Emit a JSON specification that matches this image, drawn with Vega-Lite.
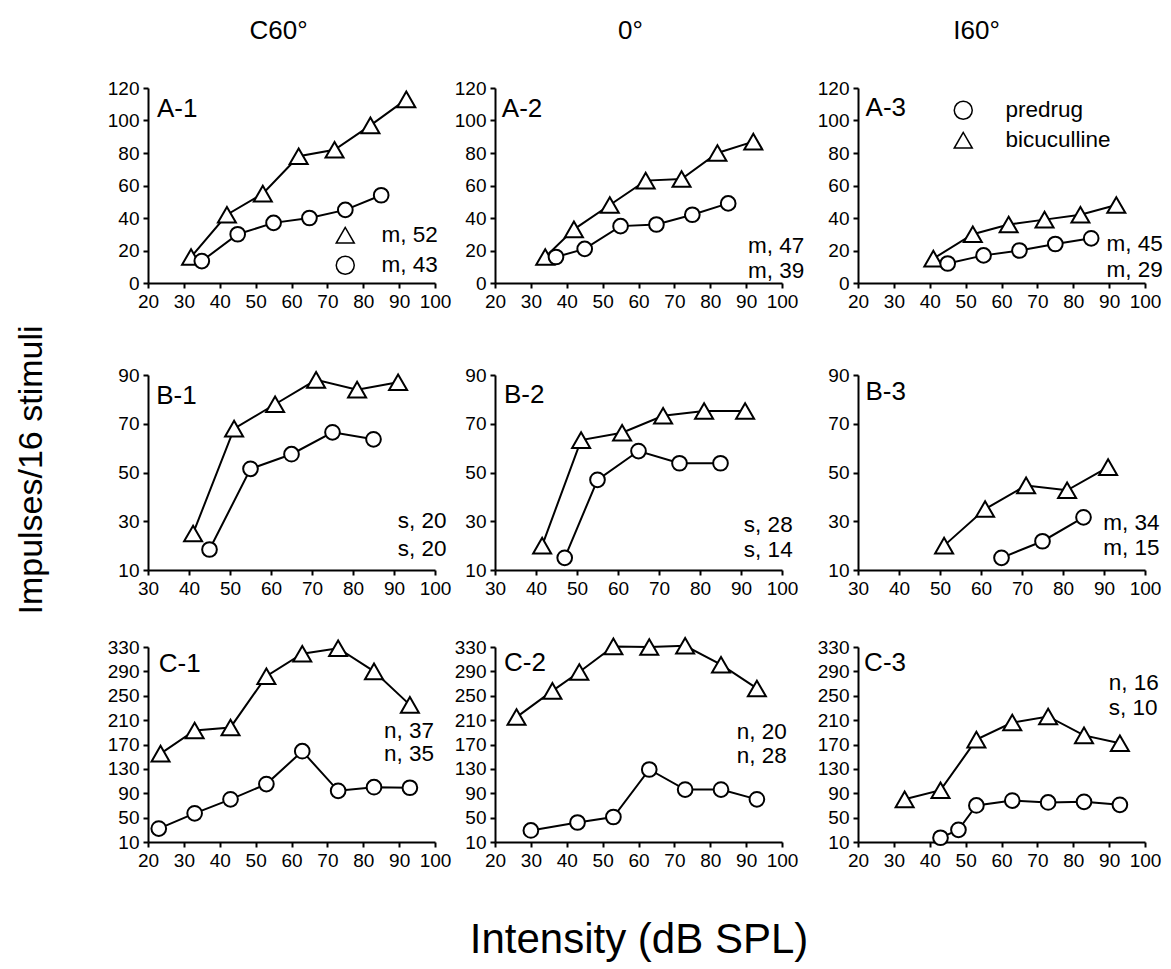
{
"$schema":"https://vega.github.io/schema/vega-lite/v6.json",
"background":"white",
"padding":{"left":15,"top":18,"right":5,"bottom":5},
"title":{"text":"Impulses/16 stimuli","orient":"left","anchor":"middle","frame":"bounds","fontSize":34,"offset":58,"dx":19},
"config":{
 "font":"Liberation Sans",
 "view":{"stroke":null},
 "axis":{"domainColor":"black","domainWidth":2,"tickColor":"black","tickWidth":2,"tickSize":5,"labelColor":"black","labelFontSize":19,"labelPadding":4,"labelOverlap":false,"labelFlush":false,"grid":false,"titleColor":"black","titleFontWeight":"normal"},
 "title":{"color":"black","fontWeight":"normal","fontSize":26,"frame":"group","anchor":"middle","offset":35},
 "text":{"color":"black"}
},
"datasets":{"d":[
{"p":"A-1","c":"bicuculline","x":32,"y":16},{"p":"A-1","c":"bicuculline","x":42,"y":42},{"p":"A-1","c":"bicuculline","x":52,"y":55},{"p":"A-1","c":"bicuculline","x":62,"y":78},{"p":"A-1","c":"bicuculline","x":72,"y":82},{"p":"A-1","c":"bicuculline","x":82,"y":97},{"p":"A-1","c":"bicuculline","x":92,"y":113},
{"p":"A-1","c":"predrug","x":35,"y":13.5},{"p":"A-1","c":"predrug","x":45,"y":30},{"p":"A-1","c":"predrug","x":55,"y":37},{"p":"A-1","c":"predrug","x":65,"y":40},{"p":"A-1","c":"predrug","x":75,"y":45},{"p":"A-1","c":"predrug","x":85,"y":54},
{"p":"A-2","c":"bicuculline","x":34,"y":16},{"p":"A-2","c":"bicuculline","x":42,"y":33},{"p":"A-2","c":"bicuculline","x":52,"y":48},{"p":"A-2","c":"bicuculline","x":62,"y":63},{"p":"A-2","c":"bicuculline","x":72,"y":64},{"p":"A-2","c":"bicuculline","x":82,"y":80},{"p":"A-2","c":"bicuculline","x":92,"y":87},
{"p":"A-2","c":"predrug","x":37,"y":16},{"p":"A-2","c":"predrug","x":45,"y":21},{"p":"A-2","c":"predrug","x":55,"y":35},{"p":"A-2","c":"predrug","x":65,"y":36},{"p":"A-2","c":"predrug","x":75,"y":42},{"p":"A-2","c":"predrug","x":85,"y":49},
{"p":"A-3","c":"bicuculline","x":41,"y":15},{"p":"A-3","c":"bicuculline","x":52,"y":30},{"p":"A-3","c":"bicuculline","x":62,"y":36},{"p":"A-3","c":"bicuculline","x":72,"y":39},{"p":"A-3","c":"bicuculline","x":82,"y":42},{"p":"A-3","c":"bicuculline","x":92,"y":48},
{"p":"A-3","c":"predrug","x":45,"y":12},{"p":"A-3","c":"predrug","x":55,"y":17},{"p":"A-3","c":"predrug","x":65,"y":20},{"p":"A-3","c":"predrug","x":75,"y":24},{"p":"A-3","c":"predrug","x":85,"y":27.5},
{"p":"B-1","c":"bicuculline","x":41,"y":25},{"p":"B-1","c":"bicuculline","x":51,"y":68},{"p":"B-1","c":"bicuculline","x":61,"y":78},{"p":"B-1","c":"bicuculline","x":71,"y":88},{"p":"B-1","c":"bicuculline","x":81,"y":84},{"p":"B-1","c":"bicuculline","x":91,"y":87},
{"p":"B-1","c":"predrug","x":45,"y":18.4},{"p":"B-1","c":"predrug","x":55,"y":51.5},{"p":"B-1","c":"predrug","x":65,"y":57.5},{"p":"B-1","c":"predrug","x":75,"y":66.5},{"p":"B-1","c":"predrug","x":85,"y":63.6},
{"p":"B-2","c":"bicuculline","x":41.5,"y":20},{"p":"B-2","c":"bicuculline","x":51,"y":63.3},{"p":"B-2","c":"bicuculline","x":61,"y":66.3},{"p":"B-2","c":"bicuculline","x":71,"y":73.3},{"p":"B-2","c":"bicuculline","x":81,"y":75.2},{"p":"B-2","c":"bicuculline","x":91,"y":75.2},
{"p":"B-2","c":"predrug","x":47,"y":15},{"p":"B-2","c":"predrug","x":55,"y":47},{"p":"B-2","c":"predrug","x":65,"y":58.8},{"p":"B-2","c":"predrug","x":75,"y":53.8},{"p":"B-2","c":"predrug","x":85,"y":53.8},
{"p":"B-3","c":"bicuculline","x":51,"y":20},{"p":"B-3","c":"bicuculline","x":61,"y":35},{"p":"B-3","c":"bicuculline","x":71,"y":44.7},{"p":"B-3","c":"bicuculline","x":81,"y":42.7},{"p":"B-3","c":"bicuculline","x":91,"y":52.2},
{"p":"B-3","c":"predrug","x":65,"y":15},{"p":"B-3","c":"predrug","x":75,"y":21.8},{"p":"B-3","c":"predrug","x":85,"y":31.6},
{"p":"C-1","c":"bicuculline","x":23.5,"y":155},{"p":"C-1","c":"bicuculline","x":33,"y":193},{"p":"C-1","c":"bicuculline","x":43,"y":198},{"p":"C-1","c":"bicuculline","x":53,"y":282},{"p":"C-1","c":"bicuculline","x":63,"y":319},{"p":"C-1","c":"bicuculline","x":73,"y":328},{"p":"C-1","c":"bicuculline","x":83,"y":290},{"p":"C-1","c":"bicuculline","x":93,"y":235},
{"p":"C-1","c":"predrug","x":23,"y":32},{"p":"C-1","c":"predrug","x":33,"y":57},{"p":"C-1","c":"predrug","x":43,"y":80},{"p":"C-1","c":"predrug","x":53,"y":105},{"p":"C-1","c":"predrug","x":63,"y":159},{"p":"C-1","c":"predrug","x":73,"y":94},{"p":"C-1","c":"predrug","x":83,"y":100},{"p":"C-1","c":"predrug","x":93,"y":99},
{"p":"C-2","c":"bicuculline","x":26,"y":215},{"p":"C-2","c":"bicuculline","x":36,"y":258},{"p":"C-2","c":"bicuculline","x":43.5,"y":289},{"p":"C-2","c":"bicuculline","x":53,"y":331},{"p":"C-2","c":"bicuculline","x":63,"y":330},{"p":"C-2","c":"bicuculline","x":73,"y":332},{"p":"C-2","c":"bicuculline","x":83,"y":301},{"p":"C-2","c":"bicuculline","x":93,"y":262},
{"p":"C-2","c":"predrug","x":30,"y":29},{"p":"C-2","c":"predrug","x":43,"y":42},{"p":"C-2","c":"predrug","x":53,"y":51},{"p":"C-2","c":"predrug","x":63,"y":129},{"p":"C-2","c":"predrug","x":73,"y":96},{"p":"C-2","c":"predrug","x":83,"y":96},{"p":"C-2","c":"predrug","x":93,"y":80},
{"p":"C-3","c":"bicuculline","x":33,"y":80},{"p":"C-3","c":"bicuculline","x":43,"y":95},{"p":"C-3","c":"bicuculline","x":53,"y":178},{"p":"C-3","c":"bicuculline","x":63,"y":206},{"p":"C-3","c":"bicuculline","x":73,"y":216},{"p":"C-3","c":"bicuculline","x":83,"y":185},{"p":"C-3","c":"bicuculline","x":93,"y":172},
{"p":"C-3","c":"predrug","x":43,"y":17},{"p":"C-3","c":"predrug","x":48,"y":30},{"p":"C-3","c":"predrug","x":53,"y":70},{"p":"C-3","c":"predrug","x":63,"y":78},{"p":"C-3","c":"predrug","x":73,"y":75},{"p":"C-3","c":"predrug","x":83,"y":76},{"p":"C-3","c":"predrug","x":93,"y":71}
],
"notes":[
{"p":"A-1","k":0,"t":"A-1"},
{"p":"A-2","k":0,"t":"A-2"},{"p":"A-2","k":1,"t":"m, 47"},{"p":"A-2","k":2,"t":"m, 39"},
{"p":"A-3","k":0,"t":"A-3"},{"p":"A-3","k":1,"t":"m, 45"},{"p":"A-3","k":2,"t":"m, 29"},
{"p":"B-1","k":0,"t":"B-1"},{"p":"B-1","k":1,"t":"s, 20"},{"p":"B-1","k":2,"t":"s, 20"},
{"p":"B-2","k":0,"t":"B-2"},{"p":"B-2","k":1,"t":"s, 28"},{"p":"B-2","k":2,"t":"s, 14"},
{"p":"B-3","k":0,"t":"B-3"},{"p":"B-3","k":1,"t":"m, 34"},{"p":"B-3","k":2,"t":"m, 15"},
{"p":"C-1","k":0,"t":"C-1"},{"p":"C-1","k":1,"t":"n, 37"},{"p":"C-1","k":2,"t":"n, 35"},
{"p":"C-2","k":0,"t":"C-2"},{"p":"C-2","k":1,"t":"n, 20"},{"p":"C-2","k":2,"t":"n, 28"},
{"p":"C-3","k":0,"t":"C-3"},{"p":"C-3","k":1,"t":"n, 16"},{"p":"C-3","k":2,"t":"s, 10"}
]},
"data":{"name":"d"},
"spacing":55,
"resolve":{"scale":{"shape":"independent"},"legend":{"shape":"independent"}},
"vconcat":[
{"hconcat":[
 {"width":287,"height":195,
  "title":{"text":"C60°","dx":-13},
  "layer":[
   {"transform":[{"filter":"datum.p==='A-1'"}],"mark":{"type":"line","color":"black","strokeWidth":2},
    "encoding":{"x":{"field":"x","type":"quantitative","scale":{"domain":[20,100],"nice":false,"zero":false},"axis":{"values":[20,30,40,50,60,70,80,90,100],"title":null}},
     "y":{"field":"y","type":"quantitative","scale":{"domain":[0,120],"nice":false,"zero":false},"axis":{"values":[0,20,40,60,80,100,120],"title":null}},
     "detail":{"field":"c","type":"nominal"},"order":{"field":"x","type":"quantitative"}}},
   {"transform":[{"filter":"datum.p==='A-1'"}],"mark":{"type":"point","filled":true,"fill":"white","stroke":"black","strokeWidth":2,"opacity":1},
    "encoding":{"x":{"field":"x","type":"quantitative","scale":{"domain":[20,100],"nice":false,"zero":false},"axis":{"values":[20,30,40,50,60,70,80,90,100],"title":null}},
     "y":{"field":"y","type":"quantitative","scale":{"domain":[0,120],"nice":false,"zero":false},"axis":{"values":[0,20,40,60,80,100,120],"title":null}},
     "shape":{"field":"c","type":"nominal","scale":{"domain":["predrug","bicuculline"],"range":["circle","triangle-up"]},
      "legend":{"orient":"none","legendX":186,"legendY":136,"title":null,"values":["bicuculline","predrug"],"labelExpr":"datum.label === 'predrug' ? 'm, 43' : 'm, 52'","labelFontSize":22.5,"labelColor":"black","labelOffset":25,"rowPadding":6,"symbolSize":324,"padding":0,
        "encode":{"symbols":{"update":{"size":{"signal":"datum.value === 'bicuculline' ? 324 : 216"},"fill":{"value":"white"},"stroke":{"value":"black"},"strokeWidth":{"value":2},"opacity":{"value":1}}}}}},
     "size":{"condition":{"test":"datum.c==='bicuculline'","value":324},"value":216}}},
   {"data":{"name":"notes"},"transform":[{"filter":"datum.p==='A-1' && datum.k===0"}],"mark":{"type":"text","fontSize":26,"align":"left","baseline":"middle"},
    "encoding":{"text":{"field":"t","type":"nominal"},
     "x":{"datum":22.5,"type":"quantitative","scale":{"domain":[20,100],"nice":false,"zero":false},"axis":{"values":[20,30,40,50,60,70,80,90,100],"title":null}},
     "y":{"datum":107,"type":"quantitative","scale":{"domain":[0,120],"nice":false,"zero":false},"axis":{"values":[0,20,40,60,80,100,120],"title":null}}}}
  ]},
 {"hconcat":[
  {"width":287,"height":195,
   "title":{"text":"0°","dx":-8},
   "layer":[
    {"transform":[{"filter":"datum.p==='A-2'"}],"mark":{"type":"line","color":"black","strokeWidth":2},
     "encoding":{"x":{"field":"x","type":"quantitative","scale":{"domain":[20,100],"nice":false,"zero":false},"axis":{"values":[20,30,40,50,60,70,80,90,100],"title":null}},
      "y":{"field":"y","type":"quantitative","scale":{"domain":[0,120],"nice":false,"zero":false},"axis":{"values":[0,20,40,60,80,100,120],"title":null}},
      "detail":{"field":"c","type":"nominal"},"order":{"field":"x","type":"quantitative"}}},
    {"transform":[{"filter":"datum.p==='A-2'"}],"mark":{"type":"point","filled":true,"fill":"white","stroke":"black","strokeWidth":2,"opacity":1},
     "encoding":{"x":{"field":"x","type":"quantitative","scale":{"domain":[20,100],"nice":false,"zero":false},"axis":{"values":[20,30,40,50,60,70,80,90,100],"title":null}},
      "y":{"field":"y","type":"quantitative","scale":{"domain":[0,120],"nice":false,"zero":false},"axis":{"values":[0,20,40,60,80,100,120],"title":null}},
      "shape":{"field":"c","type":"nominal","scale":{"domain":["predrug","bicuculline"],"range":["circle","triangle-up"]},"legend":null},
      "size":{"condition":{"test":"datum.c==='bicuculline'","value":324},"value":216}}},
    {"data":{"name":"notes"},"transform":[{"filter":"datum.p==='A-2' && datum.k===0"}],"mark":{"type":"text","fontSize":26,"align":"left","baseline":"middle"},
     "encoding":{"text":{"field":"t","type":"nominal"},
      "x":{"datum":21.9,"type":"quantitative","scale":{"domain":[20,100],"nice":false,"zero":false},"axis":{"values":[20,30,40,50,60,70,80,90,100],"title":null}},
      "y":{"datum":107,"type":"quantitative","scale":{"domain":[0,120],"nice":false,"zero":false},"axis":{"values":[0,20,40,60,80,100,120],"title":null}}}},
    {"data":{"name":"notes"},"transform":[{"filter":"datum.p==='A-2' && datum.k===1"}],"mark":{"type":"text","fontSize":22.5,"align":"left","baseline":"middle"},
     "encoding":{"text":{"field":"t","type":"nominal"},
      "x":{"datum":90.5,"type":"quantitative","scale":{"domain":[20,100],"nice":false,"zero":false},"axis":{"values":[20,30,40,50,60,70,80,90,100],"title":null}},
      "y":{"datum":22.7,"type":"quantitative","scale":{"domain":[0,120],"nice":false,"zero":false},"axis":{"values":[0,20,40,60,80,100,120],"title":null}}}},
    {"data":{"name":"notes"},"transform":[{"filter":"datum.p==='A-2' && datum.k===2"}],"mark":{"type":"text","fontSize":22.5,"align":"left","baseline":"middle"},
     "encoding":{"text":{"field":"t","type":"nominal"},
      "x":{"datum":90.5,"type":"quantitative","scale":{"domain":[20,100],"nice":false,"zero":false},"axis":{"values":[20,30,40,50,60,70,80,90,100],"title":null}},
      "y":{"datum":7.4,"type":"quantitative","scale":{"domain":[0,120],"nice":false,"zero":false},"axis":{"values":[0,20,40,60,80,100,120],"title":null}}}}
   ]},
  {"width":287,"height":195,
   "title":{"text":"I60°","dx":-25},
   "layer":[
    {"transform":[{"filter":"datum.p==='A-3'"}],"mark":{"type":"line","color":"black","strokeWidth":2},
     "encoding":{"x":{"field":"x","type":"quantitative","scale":{"domain":[20,100],"nice":false,"zero":false},"axis":{"values":[20,30,40,50,60,70,80,90,100],"title":null}},
      "y":{"field":"y","type":"quantitative","scale":{"domain":[0,120],"nice":false,"zero":false},"axis":{"values":[0,20,40,60,80,100,120],"title":null}},
      "detail":{"field":"c","type":"nominal"},"order":{"field":"x","type":"quantitative"}}},
    {"transform":[{"filter":"datum.p==='A-3'"}],"mark":{"type":"point","filled":true,"fill":"white","stroke":"black","strokeWidth":2,"opacity":1},
     "encoding":{"x":{"field":"x","type":"quantitative","scale":{"domain":[20,100],"nice":false,"zero":false},"axis":{"values":[20,30,40,50,60,70,80,90,100],"title":null}},
      "y":{"field":"y","type":"quantitative","scale":{"domain":[0,120],"nice":false,"zero":false},"axis":{"values":[0,20,40,60,80,100,120],"title":null}},
      "shape":{"field":"c","type":"nominal","scale":{"domain":["predrug","bicuculline"],"range":["circle","triangle-up"]},
       "legend":{"orient":"none","legendX":94,"legendY":11,"title":null,"values":["predrug","bicuculline"],"labelFontSize":22.5,"labelColor":"black","labelOffset":31,"rowPadding":6,"symbolSize":324,"padding":0,
        "encode":{"symbols":{"update":{"size":{"signal":"datum.value === 'bicuculline' ? 324 : 216"},"fill":{"value":"white"},"stroke":{"value":"black"},"strokeWidth":{"value":2},"opacity":{"value":1}}}}}},
      "size":{"condition":{"test":"datum.c==='bicuculline'","value":324},"value":216}}},
    {"data":{"name":"notes"},"transform":[{"filter":"datum.p==='A-3' && datum.k===0"}],"mark":{"type":"text","fontSize":26,"align":"left","baseline":"middle"},
     "encoding":{"text":{"field":"t","type":"nominal"},
      "x":{"datum":22.1,"type":"quantitative","scale":{"domain":[20,100],"nice":false,"zero":false},"axis":{"values":[20,30,40,50,60,70,80,90,100],"title":null}},
      "y":{"datum":108,"type":"quantitative","scale":{"domain":[0,120],"nice":false,"zero":false},"axis":{"values":[0,20,40,60,80,100,120],"title":null}}}},
    {"data":{"name":"notes"},"transform":[{"filter":"datum.p==='A-3' && datum.k===1"}],"mark":{"type":"text","fontSize":22.5,"align":"left","baseline":"middle"},
     "encoding":{"text":{"field":"t","type":"nominal"},
      "x":{"datum":89.3,"type":"quantitative","scale":{"domain":[20,100],"nice":false,"zero":false},"axis":{"values":[20,30,40,50,60,70,80,90,100],"title":null}},
      "y":{"datum":23.8,"type":"quantitative","scale":{"domain":[0,120],"nice":false,"zero":false},"axis":{"values":[0,20,40,60,80,100,120],"title":null}}}},
    {"data":{"name":"notes"},"transform":[{"filter":"datum.p==='A-3' && datum.k===2"}],"mark":{"type":"text","fontSize":22.5,"align":"left","baseline":"middle"},
     "encoding":{"text":{"field":"t","type":"nominal"},
      "x":{"datum":89.3,"type":"quantitative","scale":{"domain":[20,100],"nice":false,"zero":false},"axis":{"values":[20,30,40,50,60,70,80,90,100],"title":null}},
      "y":{"datum":8,"type":"quantitative","scale":{"domain":[0,120],"nice":false,"zero":false},"axis":{"values":[0,20,40,60,80,100,120],"title":null}}}}
   ]}
 ],"spacing":76,"bounds":"flush","resolve":{"scale":{"shape":"independent"},"legend":{"shape":"independent"}}}
],"spacing":60,"bounds":"flush","resolve":{"scale":{"shape":"independent"},"legend":{"shape":"independent"}}},
{"vconcat":[
 {"hconcat":[
  {"width":287,"height":195,
   "layer":[
    {"transform":[{"filter":"datum.p==='B-1'"}],"mark":{"type":"line","color":"black","strokeWidth":2},
     "encoding":{"x":{"field":"x","type":"quantitative","scale":{"domain":[30,100],"nice":false,"zero":false},"axis":{"values":[30,40,50,60,70,80,90,100],"title":null}},
      "y":{"field":"y","type":"quantitative","scale":{"domain":[10,90],"nice":false,"zero":false},"axis":{"values":[10,30,50,70,90],"title":null}},
      "detail":{"field":"c","type":"nominal"},"order":{"field":"x","type":"quantitative"}}},
    {"transform":[{"filter":"datum.p==='B-1'"}],"mark":{"type":"point","filled":true,"fill":"white","stroke":"black","strokeWidth":2,"opacity":1},
     "encoding":{"x":{"field":"x","type":"quantitative","scale":{"domain":[30,100],"nice":false,"zero":false},"axis":{"values":[30,40,50,60,70,80,90,100],"title":null}},
      "y":{"field":"y","type":"quantitative","scale":{"domain":[10,90],"nice":false,"zero":false},"axis":{"values":[10,30,50,70,90],"title":null}},
      "shape":{"field":"c","type":"nominal","scale":{"domain":["predrug","bicuculline"],"range":["circle","triangle-up"]},"legend":null},
      "size":{"condition":{"test":"datum.c==='bicuculline'","value":324},"value":216}}},
    {"data":{"name":"notes"},"transform":[{"filter":"datum.p==='B-1' && datum.k===0"}],"mark":{"type":"text","fontSize":26,"align":"left","baseline":"middle"},
     "encoding":{"text":{"field":"t","type":"nominal"},
      "x":{"datum":32,"type":"quantitative","scale":{"domain":[30,100],"nice":false,"zero":false},"axis":{"values":[30,40,50,60,70,80,90,100],"title":null}},
      "y":{"datum":81.4,"type":"quantitative","scale":{"domain":[10,90],"nice":false,"zero":false},"axis":{"values":[10,30,50,70,90],"title":null}}}},
    {"data":{"name":"notes"},"transform":[{"filter":"datum.p==='B-1' && datum.k===1"}],"mark":{"type":"text","fontSize":22.5,"align":"left","baseline":"middle"},
     "encoding":{"text":{"field":"t","type":"nominal"},
      "x":{"datum":90.9,"type":"quantitative","scale":{"domain":[30,100],"nice":false,"zero":false},"axis":{"values":[30,40,50,60,70,80,90,100],"title":null}},
      "y":{"datum":30,"type":"quantitative","scale":{"domain":[10,90],"nice":false,"zero":false},"axis":{"values":[10,30,50,70,90],"title":null}}}},
    {"data":{"name":"notes"},"transform":[{"filter":"datum.p==='B-1' && datum.k===2"}],"mark":{"type":"text","fontSize":22.5,"align":"left","baseline":"middle"},
     "encoding":{"text":{"field":"t","type":"nominal"},
      "x":{"datum":90.9,"type":"quantitative","scale":{"domain":[30,100],"nice":false,"zero":false},"axis":{"values":[30,40,50,60,70,80,90,100],"title":null}},
      "y":{"datum":18.6,"type":"quantitative","scale":{"domain":[10,90],"nice":false,"zero":false},"axis":{"values":[10,30,50,70,90],"title":null}}}}
   ]},
  {"hconcat":[
   {"width":287,"height":195,
    "layer":[
     {"transform":[{"filter":"datum.p==='B-2'"}],"mark":{"type":"line","color":"black","strokeWidth":2},
      "encoding":{"x":{"field":"x","type":"quantitative","scale":{"domain":[30,100],"nice":false,"zero":false},"axis":{"values":[30,40,50,60,70,80,90,100],"title":null}},
       "y":{"field":"y","type":"quantitative","scale":{"domain":[10,90],"nice":false,"zero":false},"axis":{"values":[10,30,50,70,90],"title":null}},
       "detail":{"field":"c","type":"nominal"},"order":{"field":"x","type":"quantitative"}}},
     {"transform":[{"filter":"datum.p==='B-2'"}],"mark":{"type":"point","filled":true,"fill":"white","stroke":"black","strokeWidth":2,"opacity":1},
      "encoding":{"x":{"field":"x","type":"quantitative","scale":{"domain":[30,100],"nice":false,"zero":false},"axis":{"values":[30,40,50,60,70,80,90,100],"title":null}},
       "y":{"field":"y","type":"quantitative","scale":{"domain":[10,90],"nice":false,"zero":false},"axis":{"values":[10,30,50,70,90],"title":null}},
       "shape":{"field":"c","type":"nominal","scale":{"domain":["predrug","bicuculline"],"range":["circle","triangle-up"]},"legend":null},
       "size":{"condition":{"test":"datum.c==='bicuculline'","value":324},"value":216}}},
     {"data":{"name":"notes"},"transform":[{"filter":"datum.p==='B-2' && datum.k===0"}],"mark":{"type":"text","fontSize":26,"align":"left","baseline":"middle"},
      "encoding":{"text":{"field":"t","type":"nominal"},
       "x":{"datum":32.2,"type":"quantitative","scale":{"domain":[30,100],"nice":false,"zero":false},"axis":{"values":[30,40,50,60,70,80,90,100],"title":null}},
       "y":{"datum":81.8,"type":"quantitative","scale":{"domain":[10,90],"nice":false,"zero":false},"axis":{"values":[10,30,50,70,90],"title":null}}}},
     {"data":{"name":"notes"},"transform":[{"filter":"datum.p==='B-2' && datum.k===1"}],"mark":{"type":"text","fontSize":22.5,"align":"left","baseline":"middle"},
      "encoding":{"text":{"field":"t","type":"nominal"},
       "x":{"datum":90.7,"type":"quantitative","scale":{"domain":[30,100],"nice":false,"zero":false},"axis":{"values":[30,40,50,60,70,80,90,100],"title":null}},
       "y":{"datum":28.6,"type":"quantitative","scale":{"domain":[10,90],"nice":false,"zero":false},"axis":{"values":[10,30,50,70,90],"title":null}}}},
     {"data":{"name":"notes"},"transform":[{"filter":"datum.p==='B-2' && datum.k===2"}],"mark":{"type":"text","fontSize":22.5,"align":"left","baseline":"middle"},
      "encoding":{"text":{"field":"t","type":"nominal"},
       "x":{"datum":90.7,"type":"quantitative","scale":{"domain":[30,100],"nice":false,"zero":false},"axis":{"values":[30,40,50,60,70,80,90,100],"title":null}},
       "y":{"datum":18.4,"type":"quantitative","scale":{"domain":[10,90],"nice":false,"zero":false},"axis":{"values":[10,30,50,70,90],"title":null}}}}
    ]},
   {"width":287,"height":195,
    "layer":[
     {"transform":[{"filter":"datum.p==='B-3'"}],"mark":{"type":"line","color":"black","strokeWidth":2},
      "encoding":{"x":{"field":"x","type":"quantitative","scale":{"domain":[30,100],"nice":false,"zero":false},"axis":{"values":[30,40,50,60,70,80,90,100],"title":null}},
       "y":{"field":"y","type":"quantitative","scale":{"domain":[10,90],"nice":false,"zero":false},"axis":{"values":[10,30,50,70,90],"title":null}},
       "detail":{"field":"c","type":"nominal"},"order":{"field":"x","type":"quantitative"}}},
     {"transform":[{"filter":"datum.p==='B-3'"}],"mark":{"type":"point","filled":true,"fill":"white","stroke":"black","strokeWidth":2,"opacity":1},
      "encoding":{"x":{"field":"x","type":"quantitative","scale":{"domain":[30,100],"nice":false,"zero":false},"axis":{"values":[30,40,50,60,70,80,90,100],"title":null}},
       "y":{"field":"y","type":"quantitative","scale":{"domain":[10,90],"nice":false,"zero":false},"axis":{"values":[10,30,50,70,90],"title":null}},
       "shape":{"field":"c","type":"nominal","scale":{"domain":["predrug","bicuculline"],"range":["circle","triangle-up"]},"legend":null},
       "size":{"condition":{"test":"datum.c==='bicuculline'","value":324},"value":216}}},
     {"data":{"name":"notes"},"transform":[{"filter":"datum.p==='B-3' && datum.k===0"}],"mark":{"type":"text","fontSize":26,"align":"left","baseline":"middle"},
      "encoding":{"text":{"field":"t","type":"nominal"},
       "x":{"datum":31.8,"type":"quantitative","scale":{"domain":[30,100],"nice":false,"zero":false},"axis":{"values":[30,40,50,60,70,80,90,100],"title":null}},
       "y":{"datum":83,"type":"quantitative","scale":{"domain":[10,90],"nice":false,"zero":false},"axis":{"values":[10,30,50,70,90],"title":null}}}},
     {"data":{"name":"notes"},"transform":[{"filter":"datum.p==='B-3' && datum.k===1"}],"mark":{"type":"text","fontSize":22.5,"align":"left","baseline":"middle"},
      "encoding":{"text":{"field":"t","type":"nominal"},
       "x":{"datum":89.8,"type":"quantitative","scale":{"domain":[30,100],"nice":false,"zero":false},"axis":{"values":[30,40,50,60,70,80,90,100],"title":null}},
       "y":{"datum":29.3,"type":"quantitative","scale":{"domain":[10,90],"nice":false,"zero":false},"axis":{"values":[10,30,50,70,90],"title":null}}}},
     {"data":{"name":"notes"},"transform":[{"filter":"datum.p==='B-3' && datum.k===2"}],"mark":{"type":"text","fontSize":22.5,"align":"left","baseline":"middle"},
      "encoding":{"text":{"field":"t","type":"nominal"},
       "x":{"datum":89.8,"type":"quantitative","scale":{"domain":[30,100],"nice":false,"zero":false},"axis":{"values":[30,40,50,60,70,80,90,100],"title":null}},
       "y":{"datum":19.1,"type":"quantitative","scale":{"domain":[10,90],"nice":false,"zero":false},"axis":{"values":[10,30,50,70,90],"title":null}}}}
    ]}
  ],"spacing":76,"bounds":"flush","resolve":{"scale":{"shape":"independent"},"legend":{"shape":"independent"}}}
 ],"spacing":60,"bounds":"flush","resolve":{"scale":{"shape":"independent"},"legend":{"shape":"independent"}}},
 {"hconcat":[
  {"width":287,"height":195,
   "layer":[
    {"transform":[{"filter":"datum.p==='C-1'"}],"mark":{"type":"line","color":"black","strokeWidth":2},
     "encoding":{"x":{"field":"x","type":"quantitative","scale":{"domain":[20,100],"nice":false,"zero":false},"axis":{"values":[20,30,40,50,60,70,80,90,100],"title":null}},
      "y":{"field":"y","type":"quantitative","scale":{"domain":[10,330],"nice":false,"zero":false},"axis":{"values":[10,50,90,130,170,210,250,290,330],"title":null}},
      "detail":{"field":"c","type":"nominal"},"order":{"field":"x","type":"quantitative"}}},
    {"transform":[{"filter":"datum.p==='C-1'"}],"mark":{"type":"point","filled":true,"fill":"white","stroke":"black","strokeWidth":2,"opacity":1},
     "encoding":{"x":{"field":"x","type":"quantitative","scale":{"domain":[20,100],"nice":false,"zero":false},"axis":{"values":[20,30,40,50,60,70,80,90,100],"title":null}},
      "y":{"field":"y","type":"quantitative","scale":{"domain":[10,330],"nice":false,"zero":false},"axis":{"values":[10,50,90,130,170,210,250,290,330],"title":null}},
      "shape":{"field":"c","type":"nominal","scale":{"domain":["predrug","bicuculline"],"range":["circle","triangle-up"]},"legend":null},
      "size":{"condition":{"test":"datum.c==='bicuculline'","value":324},"value":216}}},
    {"data":{"name":"notes"},"transform":[{"filter":"datum.p==='C-1' && datum.k===0"}],"mark":{"type":"text","fontSize":26,"align":"left","baseline":"middle"},
     "encoding":{"text":{"field":"t","type":"nominal"},
      "x":{"datum":23,"type":"quantitative","scale":{"domain":[20,100],"nice":false,"zero":false},"axis":{"values":[20,30,40,50,60,70,80,90,100],"title":null}},
      "y":{"datum":301.6,"type":"quantitative","scale":{"domain":[10,330],"nice":false,"zero":false},"axis":{"values":[10,50,90,130,170,210,250,290,330],"title":null}}}},
    {"data":{"name":"notes"},"transform":[{"filter":"datum.p==='C-1' && datum.k===1"}],"mark":{"type":"text","fontSize":22.5,"align":"left","baseline":"middle"},
     "encoding":{"text":{"field":"t","type":"nominal"},
      "x":{"datum":85.8,"type":"quantitative","scale":{"domain":[20,100],"nice":false,"zero":false},"axis":{"values":[20,30,40,50,60,70,80,90,100],"title":null}},
      "y":{"datum":192,"type":"quantitative","scale":{"domain":[10,330],"nice":false,"zero":false},"axis":{"values":[10,50,90,130,170,210,250,290,330],"title":null}}}},
    {"data":{"name":"notes"},"transform":[{"filter":"datum.p==='C-1' && datum.k===2"}],"mark":{"type":"text","fontSize":22.5,"align":"left","baseline":"middle"},
     "encoding":{"text":{"field":"t","type":"nominal"},
      "x":{"datum":85.8,"type":"quantitative","scale":{"domain":[20,100],"nice":false,"zero":false},"axis":{"values":[20,30,40,50,60,70,80,90,100],"title":null}},
      "y":{"datum":153.6,"type":"quantitative","scale":{"domain":[10,330],"nice":false,"zero":false},"axis":{"values":[10,50,90,130,170,210,250,290,330],"title":null}}}}
   ]},
  {"hconcat":[
   {"width":287,"height":195,
    "layer":[
     {"transform":[{"filter":"datum.p==='C-2'"}],"mark":{"type":"line","color":"black","strokeWidth":2},
      "encoding":{"x":{"field":"x","type":"quantitative","scale":{"domain":[20,100],"nice":false,"zero":false},"axis":{"values":[20,30,40,50,60,70,80,90,100],"title":"Intensity (dB SPL)","titleFontSize":42,"titlePadding":49}},
       "y":{"field":"y","type":"quantitative","scale":{"domain":[10,330],"nice":false,"zero":false},"axis":{"values":[10,50,90,130,170,210,250,290,330],"title":null}},
       "detail":{"field":"c","type":"nominal"},"order":{"field":"x","type":"quantitative"}}},
     {"transform":[{"filter":"datum.p==='C-2'"}],"mark":{"type":"point","filled":true,"fill":"white","stroke":"black","strokeWidth":2,"opacity":1},
      "encoding":{"x":{"field":"x","type":"quantitative","scale":{"domain":[20,100],"nice":false,"zero":false},"axis":{"values":[20,30,40,50,60,70,80,90,100],"title":"Intensity (dB SPL)","titleFontSize":42,"titlePadding":49}},
       "y":{"field":"y","type":"quantitative","scale":{"domain":[10,330],"nice":false,"zero":false},"axis":{"values":[10,50,90,130,170,210,250,290,330],"title":null}},
       "shape":{"field":"c","type":"nominal","scale":{"domain":["predrug","bicuculline"],"range":["circle","triangle-up"]},"legend":null},
       "size":{"condition":{"test":"datum.c==='bicuculline'","value":324},"value":216}}},
     {"data":{"name":"notes"},"transform":[{"filter":"datum.p==='C-2' && datum.k===0"}],"mark":{"type":"text","fontSize":26,"align":"left","baseline":"middle"},
      "encoding":{"text":{"field":"t","type":"nominal"},
       "x":{"datum":22.5,"type":"quantitative","scale":{"domain":[20,100],"nice":false,"zero":false},"axis":{"values":[20,30,40,50,60,70,80,90,100],"title":"Intensity (dB SPL)","titleFontSize":42,"titlePadding":49}},
       "y":{"datum":304,"type":"quantitative","scale":{"domain":[10,330],"nice":false,"zero":false},"axis":{"values":[10,50,90,130,170,210,250,290,330],"title":null}}}},
     {"data":{"name":"notes"},"transform":[{"filter":"datum.p==='C-2' && datum.k===1"}],"mark":{"type":"text","fontSize":22.5,"align":"left","baseline":"middle"},
      "encoding":{"text":{"field":"t","type":"nominal"},
       "x":{"datum":87.4,"type":"quantitative","scale":{"domain":[20,100],"nice":false,"zero":false},"axis":{"values":[20,30,40,50,60,70,80,90,100],"title":"Intensity (dB SPL)","titleFontSize":42,"titlePadding":49}},
       "y":{"datum":190,"type":"quantitative","scale":{"domain":[10,330],"nice":false,"zero":false},"axis":{"values":[10,50,90,130,170,210,250,290,330],"title":null}}}},
     {"data":{"name":"notes"},"transform":[{"filter":"datum.p==='C-2' && datum.k===2"}],"mark":{"type":"text","fontSize":22.5,"align":"left","baseline":"middle"},
      "encoding":{"text":{"field":"t","type":"nominal"},
       "x":{"datum":87.4,"type":"quantitative","scale":{"domain":[20,100],"nice":false,"zero":false},"axis":{"values":[20,30,40,50,60,70,80,90,100],"title":"Intensity (dB SPL)","titleFontSize":42,"titlePadding":49}},
       "y":{"datum":151,"type":"quantitative","scale":{"domain":[10,330],"nice":false,"zero":false},"axis":{"values":[10,50,90,130,170,210,250,290,330],"title":null}}}}
    ]},
   {"width":287,"height":195,
    "layer":[
     {"transform":[{"filter":"datum.p==='C-3'"}],"mark":{"type":"line","color":"black","strokeWidth":2},
      "encoding":{"x":{"field":"x","type":"quantitative","scale":{"domain":[20,100],"nice":false,"zero":false},"axis":{"values":[20,30,40,50,60,70,80,90,100],"title":null}},
       "y":{"field":"y","type":"quantitative","scale":{"domain":[10,330],"nice":false,"zero":false},"axis":{"values":[10,50,90,130,170,210,250,290,330],"title":null}},
       "detail":{"field":"c","type":"nominal"},"order":{"field":"x","type":"quantitative"}}},
     {"transform":[{"filter":"datum.p==='C-3'"}],"mark":{"type":"point","filled":true,"fill":"white","stroke":"black","strokeWidth":2,"opacity":1},
      "encoding":{"x":{"field":"x","type":"quantitative","scale":{"domain":[20,100],"nice":false,"zero":false},"axis":{"values":[20,30,40,50,60,70,80,90,100],"title":null}},
       "y":{"field":"y","type":"quantitative","scale":{"domain":[10,330],"nice":false,"zero":false},"axis":{"values":[10,50,90,130,170,210,250,290,330],"title":null}},
       "shape":{"field":"c","type":"nominal","scale":{"domain":["predrug","bicuculline"],"range":["circle","triangle-up"]},"legend":null},
       "size":{"condition":{"test":"datum.c==='bicuculline'","value":324},"value":216}}},
     {"data":{"name":"notes"},"transform":[{"filter":"datum.p==='C-3' && datum.k===0"}],"mark":{"type":"text","fontSize":26,"align":"left","baseline":"middle"},
      "encoding":{"text":{"field":"t","type":"nominal"},
       "x":{"datum":21.7,"type":"quantitative","scale":{"domain":[20,100],"nice":false,"zero":false},"axis":{"values":[20,30,40,50,60,70,80,90,100],"title":null}},
       "y":{"datum":303,"type":"quantitative","scale":{"domain":[10,330],"nice":false,"zero":false},"axis":{"values":[10,50,90,130,170,210,250,290,330],"title":null}}}},
     {"data":{"name":"notes"},"transform":[{"filter":"datum.p==='C-3' && datum.k===1"}],"mark":{"type":"text","fontSize":22.5,"align":"left","baseline":"middle"},
      "encoding":{"text":{"field":"t","type":"nominal"},
       "x":{"datum":89.9,"type":"quantitative","scale":{"domain":[20,100],"nice":false,"zero":false},"axis":{"values":[20,30,40,50,60,70,80,90,100],"title":null}},
       "y":{"datum":270.9,"type":"quantitative","scale":{"domain":[10,330],"nice":false,"zero":false},"axis":{"values":[10,50,90,130,170,210,250,290,330],"title":null}}}},
     {"data":{"name":"notes"},"transform":[{"filter":"datum.p==='C-3' && datum.k===2"}],"mark":{"type":"text","fontSize":22.5,"align":"left","baseline":"middle"},
      "encoding":{"text":{"field":"t","type":"nominal"},
       "x":{"datum":89.9,"type":"quantitative","scale":{"domain":[20,100],"nice":false,"zero":false},"axis":{"values":[20,30,40,50,60,70,80,90,100],"title":null}},
       "y":{"datum":229.6,"type":"quantitative","scale":{"domain":[10,330],"nice":false,"zero":false},"axis":{"values":[10,50,90,130,170,210,250,290,330],"title":null}}}}
    ]}
  ],"spacing":76,"bounds":"flush","resolve":{"scale":{"shape":"independent"},"legend":{"shape":"independent"}}}
 ],"spacing":60,"bounds":"flush","resolve":{"scale":{"shape":"independent"},"legend":{"shape":"independent"}}}
],"spacing":35,"resolve":{"scale":{"shape":"independent"},"legend":{"shape":"independent"}}}
]
}
